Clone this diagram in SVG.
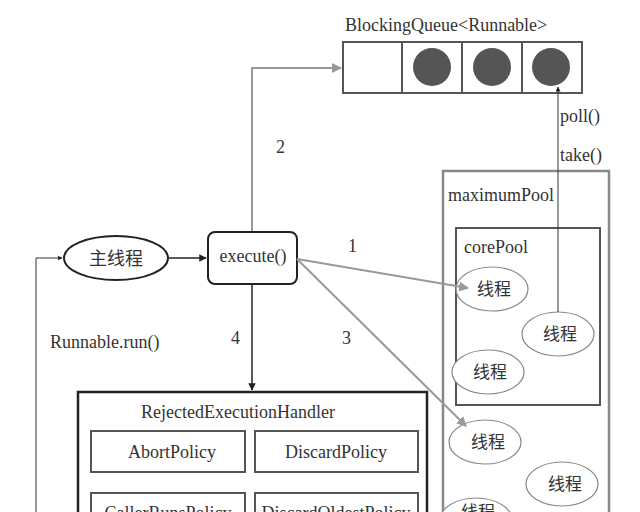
<svg xmlns="http://www.w3.org/2000/svg" width="640" height="512" viewBox="0 0 640 512">
<style>
.t{font-family:'Liberation Serif',serif;fill:#333;font-size:18px}
.cn{font-family:'Noto Sans CJK SC',sans-serif;fill:#333;font-size:17px}
.thr{fill:#fff;stroke:#888;stroke-width:1.2}
.gl{fill:none;stroke:#999;stroke-width:2}
.bl{fill:none;stroke:#222;stroke-width:1.5}
.pol{fill:#fff;stroke:#555;stroke-width:2}
</style>
<defs>
<marker id="ag" viewBox="0 0 10 10" refX="9" refY="5" markerWidth="5" markerHeight="5" orient="auto"><path d="M0,0L10,5L0,10z" fill="#999"/></marker>
<marker id="ab" viewBox="0 0 10 10" refX="9" refY="5" markerWidth="5" markerHeight="5" orient="auto"><path d="M0,0L10,5L0,10z" fill="#222"/></marker>
</defs>
<rect width="640" height="512" fill="#fff"/>
<g id="queue">
<text class="t" x="345" y="31">BlockingQueue&lt;Runnable&gt;</text>
<rect x="343" y="42" width="239" height="51" fill="#fff" stroke="#555" stroke-width="2"/>
<path d="M402,42V93M462,42V93M522,42V93" stroke="#555" stroke-width="2"/>
<circle cx="432" cy="67" r="19" fill="#555"/>
<circle cx="492" cy="67" r="19" fill="#555"/>
<circle cx="551" cy="67" r="19" fill="#555"/>
</g>
<g id="maximumPool">
<rect x="443" y="171" width="166" height="360" fill="#fff" stroke="#888" stroke-width="2.5"/>
<text class="t" x="448" y="201">maximumPool</text>
</g>
<g id="corePool">
<rect x="456" y="228" width="144" height="177" fill="#fff" stroke="#555" stroke-width="2"/>
<text class="t" x="464" y="253">corePool</text>
</g>
<g id="t1"><ellipse class="thr" cx="492" cy="289" rx="36" ry="22"/><text class="cn" x="494" y="295" text-anchor="middle">线程</text></g>
<g id="t2"><ellipse class="thr" cx="558" cy="334" rx="36" ry="22"/><text class="cn" x="560" y="340" text-anchor="middle">线程</text></g>
<g id="t3"><ellipse class="thr" cx="488" cy="372" rx="36" ry="22"/><text class="cn" x="490" y="378" text-anchor="middle">线程</text></g>
<g id="t4"><ellipse class="thr" cx="485" cy="442" rx="36" ry="22"/><text class="cn" x="488" y="448" text-anchor="middle">线程</text></g>
<g id="t5"><ellipse class="thr" cx="562" cy="484" rx="36" ry="22"/><text class="cn" x="565" y="490" text-anchor="middle">线程</text></g>
<g id="t6"><ellipse class="thr" cx="476" cy="520" rx="36" ry="22"/><text class="cn" x="478" y="518" text-anchor="middle">线程</text></g>
<g id="main"><ellipse cx="116" cy="258" rx="52" ry="22" fill="#fff" stroke="#222" stroke-width="2"/><text class="cn" x="116" y="265" text-anchor="middle" style="font-size:18px">主线程</text></g>
<g id="execute"><rect x="208" y="232" width="89" height="52" rx="7" fill="#fff" stroke="#222" stroke-width="2"/><text class="t" x="253" y="262" text-anchor="middle">execute()</text></g>
<g id="handler">
<rect x="78" y="392" width="349" height="140" fill="#fff" stroke="#222" stroke-width="2.5"/>
<text class="t" x="238" y="418" text-anchor="middle">RejectedExecutionHandler</text>
<rect class="pol" x="91" y="431" width="154" height="41"/><text class="t" x="172" y="458" text-anchor="middle">AbortPolicy</text>
<rect class="pol" x="255" y="431" width="163" height="41"/><text class="t" x="336" y="458" text-anchor="middle">DiscardPolicy</text>
<rect class="pol" x="91" y="493" width="154" height="41"/><text class="t" x="168" y="519" text-anchor="middle">CallerRunsPolicy</text>
<rect class="pol" x="255" y="493" width="163" height="41"/><text class="t" x="336" y="519" text-anchor="middle">DiscardOldestPolicy</text>
</g>
<g id="connectors">
<path class="gl" d="M252,231V68H341" marker-end="url(#ag)"/>
<text class="t" x="276" y="153">2</text>
<path class="gl" d="M297,259L468,288" marker-end="url(#ag)"/>
<text class="t" x="348" y="252">1</text>
<path class="gl" d="M297,259L466,426" marker-end="url(#ag)"/>
<text class="t" x="342" y="344">3</text>
<path class="bl" d="M169,258H206" marker-end="url(#ab)"/>
<path class="bl" d="M252,285V390" marker-end="url(#ab)"/>
<text class="t" x="231" y="344">4</text>
<path fill="none" stroke="#333" stroke-width="1" d="M36,512V258H62" marker-end="url(#ab)"/>
<text class="t" x="50" y="348">Runnable.run()</text>
<path fill="none" stroke="#333" stroke-width="1" d="M558,312V87" marker-end="url(#ab)"/>
<text class="t" x="560" y="122">poll()</text>
<text class="t" x="560" y="161">take()</text>
</g>
</svg>
